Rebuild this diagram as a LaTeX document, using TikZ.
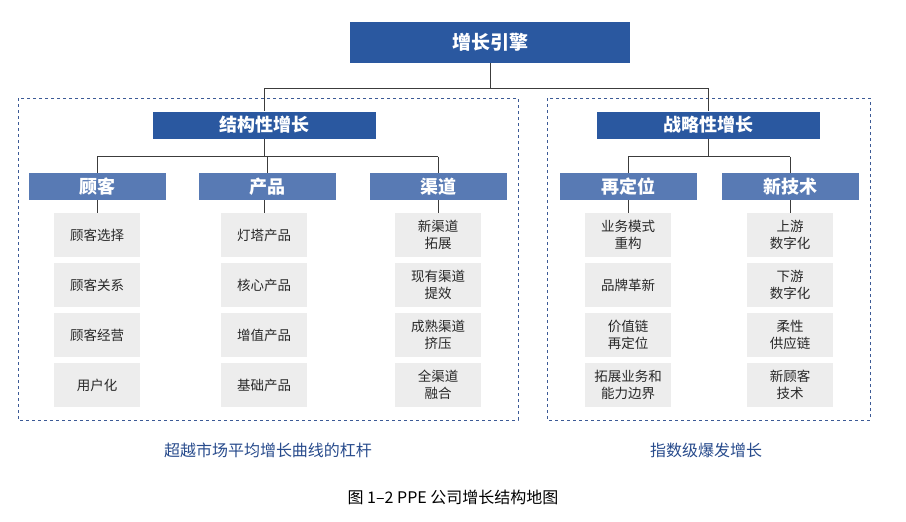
\documentclass[tikz,border=0pt]{standalone}
\usepackage{fontspec}
\setmainfont{Noto Sans CJK SC}
\begin{document}
\begin{tikzpicture}[x=1pt,y=-1pt,
  dk/.style={fill={rgb,255:red,42;green,88;blue,160},text=white,font=\bfseries\fontsize{18}{18}\selectfont,inner sep=0pt,minimum height=27pt},
  cat/.style={fill={rgb,255:red,88;green,122;blue,180},text=white,font=\bfseries\fontsize{18}{18}\selectfont,minimum width=137pt,minimum height=27pt,inner sep=0pt},
  leaf/.style={fill={rgb,255:red,237;green,237;blue,237},minimum width=86pt,minimum height=44pt,inner sep=0pt,align=center,font=\fontsize{13.5}{17}\selectfont,text={rgb,255:red,40;green,40;blue,40}},
  frame/.style={draw={rgb,255:red,60;green,90;blue,150},dashed,line width=0.8pt},
  ln/.style={draw={rgb,255:red,60;green,60;blue,60},line width=0.8pt},
  foot/.style={text={rgb,255:red,40;green,75;blue,140},font=\fontsize{16}{16}\selectfont}]
\useasboundingbox (0,0) rectangle (906,522);
\draw[frame] (18,98) rectangle (518,420);
\draw[frame] (547,98) rectangle (870,420);
\node[dk,minimum width=280pt,minimum height=41pt,font=\bfseries\fontsize{19}{19}\selectfont] (top) at (490,42.5) {增长引擎};
\node[dk,minimum width=223pt] (s1) at (264,125) {结构性增长};
\node[dk,minimum width=223pt] (s2) at (708,125) {战略性增长};
\node[cat] (c1) at (97,186.5) {顾客};
\node[cat] (c2) at (267,186.5) {产品};
\node[cat] (c3) at (438,186.5) {渠道};
\node[cat] (c4) at (628,186.5) {再定位};
\node[cat] (c5) at (790,186.5) {新技术};
\draw[ln] (top.south) -- ++(0,25) coordinate (j0);
\draw[ln] (s1.north |- j0) -- (s2.north |- j0);
\draw[ln] (s1.north |- j0) -- (s1.north);
\draw[ln] (s2.north |- j0) -- (s2.north);
\draw[ln] (s1.south) -- ++(0,18) coordinate (j1);
\draw[ln] (c1.north |- j1) -- (c3.north |- j1);
\foreach \c in {c1,c2,c3} \draw[ln] (\c.north |- j1) -- (\c.north);
\draw[ln] (s2.south) -- ++(0,18) coordinate (j2);
\draw[ln] (c4.north |- j2) -- (c5.north |- j2);
\foreach \c in {c4,c5} \draw[ln] (\c.north |- j2) -- (\c.north);
\foreach \c/\x/\a/\b/\cc/\d in {
 1/97/顾客选择/顾客关系/顾客经营/用户化,
 2/264/灯塔产品/核心产品/增值产品/基础产品,
 3/438/新渠道\\拓展/现有渠道\\提效/成熟渠道\\挤压/全渠道\\融合,
 4/628/业务模式\\重构/品牌革新/价值链\\再定位/拓展业务和\\能力边界,
 5/790/上游\\数字化/下游\\数字化/柔性\\供应链/新顾客\\技术}{
 \node[leaf] (l\c a) at (\x,235) {\a};
 \node[leaf] (l\c b) at (\x,285) {\b};
 \node[leaf] (l\c c) at (\x,335) {\cc};
 \node[leaf] (l\c d) at (\x,385) {\d};
 \draw[ln] (c\c.south -| l\c a.north) -- (l\c a.north);
}
\node[foot] (f1) at (268,450) {超越市场平均增长曲线的杠杆};
\node[foot] (f2) at (706,450) {指数级爆发增长};
\node[font=\fontsize{16}{16}\selectfont] (cap) at (453,497) {图 1–2 PPE 公司增长结构地图};
\end{tikzpicture}
\end{document}
